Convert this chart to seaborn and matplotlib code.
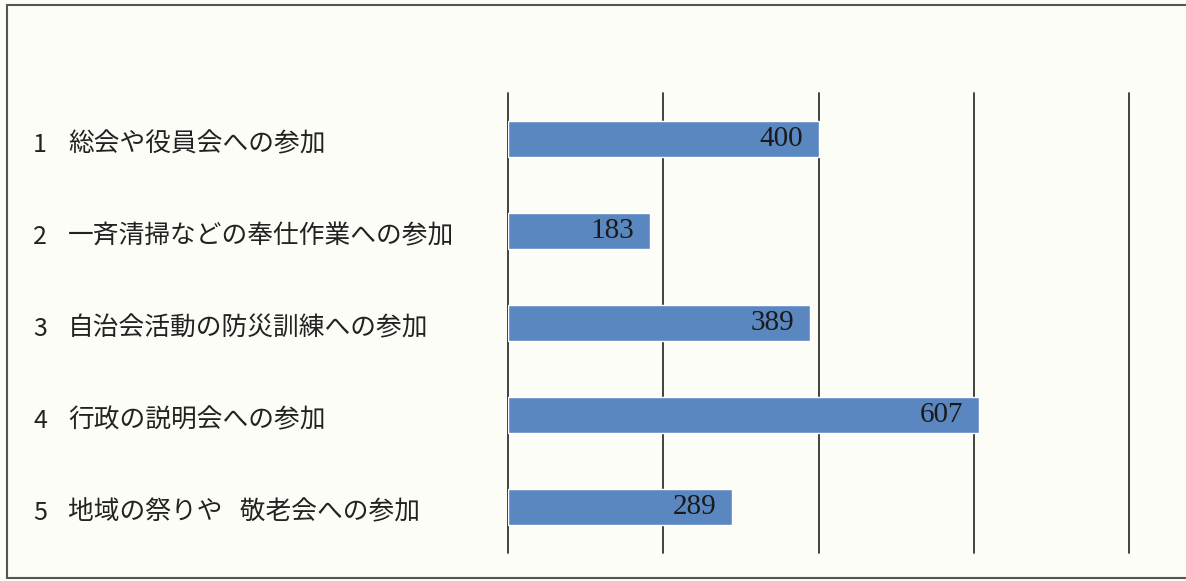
import matplotlib
matplotlib.use("Agg")
import matplotlib.pyplot as plt
import matplotlib.transforms as mtransforms
import pandas as pd
import seaborn as sns

# Participation items and counts
numbers = ["1", "2", "3", "4", "5"]
items = [
    "総会や役員会への参加",
    "一斉清掃などの奉仕作業への参加",
    "自治会活動の防災訓練への参加",
    "行政の説明会への参加",
    "地域の祭りや   敬老会への参加",
]
counts = [400, 183, 389, 607, 289]
grid_ticks = [0, 200, 400, 600, 800]

sns.set_theme(style="white")
plt.rcParams["font.family"] = ["Noto Sans CJK JP", "DejaVu Sans"]

df = pd.DataFrame({"item": items, "count": counts})

bg = "#fdfdf7"
bar_color = "#5b87c0"

fig = plt.figure(figsize=(11.86, 5.81), dpi=100, facecolor=bg)
ax = fig.add_axes([508 / 1186, 1 - 553 / 581, (1129 - 508) / 1186, (553 - 93) / 581])
ax.set_facecolor(bg)

sns.barplot(data=df, x="count", y="item", orient="h", color=bar_color,
            width=0.4, saturation=1, ax=ax, zorder=3)

ax.set_xlim(0, 800)
ax.set_ylim(4.5, -0.5)
for t in grid_ticks:
    ax.axvline(t, color="#333333", lw=1.3, zorder=2, clip_on=False)

for s in ax.spines.values():
    s.set_visible(False)
ax.set_xticks([])
ax.set_yticks([])
ax.set_xlabel("")
ax.set_ylabel("")

# Value labels inside the right end of each bar
for i, v in enumerate(counts):
    ax.annotate(str(v), xy=(v, i), xytext=(-11.5, 0), textcoords="offset points",
                ha="right", va="center", fontsize=21, color="#1a1a1a",
                family="Liberation Serif", zorder=4)

# Category labels at the left side of the figure
trans = mtransforms.blended_transform_factory(fig.transFigure, ax.transData)
for i, (n, label) in enumerate(zip(numbers, items)):
    ax.text(33 / 1186, i + 0.06, n, transform=trans,
            ha="left", va="center", fontsize=18, color="#222222")
    ax.text(68 / 1186, i + 0.06, label, transform=trans,
            ha="left", va="center", fontsize=18.5, color="#222222")

# Frame lines around the panel
frame_kw = dict(color="#555555", lw=1.5, transform=fig.transFigure)
fig.add_artist(plt.Line2D([7 / 1186, 1.01], [1 - 5 / 581, 1 - 5 / 581], **frame_kw))
fig.add_artist(plt.Line2D([7 / 1186, 1.01], [1 - 578 / 581, 1 - 578 / 581], **frame_kw))
fig.add_artist(plt.Line2D([7 / 1186, 7 / 1186], [1 - 5 / 581, 1 - 578 / 581], **frame_kw))

fig.savefig("out.png", dpi=100, facecolor=bg)
